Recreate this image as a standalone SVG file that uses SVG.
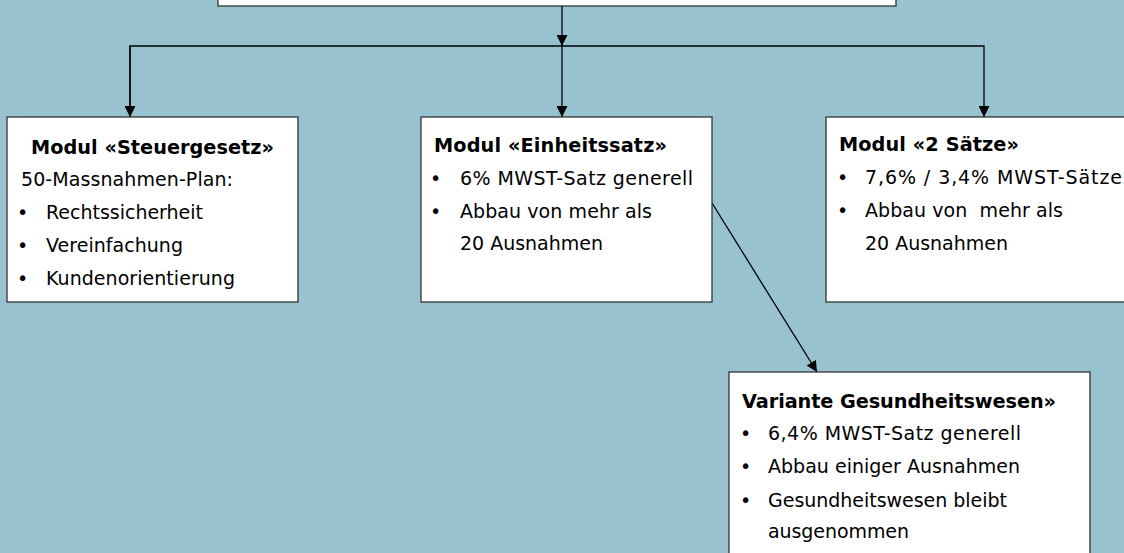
<svg xmlns="http://www.w3.org/2000/svg" width="1124" height="553" viewBox="0 0 1124 553">
  <style>
    .box { fill: #ffffff; stroke: #333333; stroke-width: 1.3; }
    .conn { fill: none; stroke: #000000; stroke-width: 1.3; }
    text { font-family: "DejaVu Sans", Verdana, sans-serif; font-size: 19px; fill: #000000; }
    .title { font-weight: bold; font-size: 19.3px; }
  </style>
  <defs>
    <marker id="arrow" viewBox="0 0 11 11" refX="11" refY="5.5" markerWidth="11" markerHeight="11" markerUnits="userSpaceOnUse" orient="auto">
      <path d="M0,0 L11,5.5 L0,11 Z" fill="#000000"/>
    </marker>
  </defs>
  <rect x="0" y="0" width="1124" height="553" fill="#98c2d0"/>

  <g id="node-top">
    <rect class="box" x="218" y="-10" width="678" height="16"/>
  </g>

  <g id="connectors">
    <line class="conn" x1="562" y1="6" x2="562" y2="46" marker-end="url(#arrow)"/>
    <polyline class="conn" points="130,117 130,46 984,46 984,117" marker-end="url(#arrow)"/>
    <line class="conn" x1="130" y1="46" x2="130" y2="117" marker-end="url(#arrow)"/>
    <line class="conn" x1="562" y1="46" x2="562" y2="117" marker-end="url(#arrow)"/>
    <line class="conn" x1="712" y1="203" x2="817" y2="372" marker-end="url(#arrow)"/>
  </g>

  <g id="node-steuergesetz">
    <rect class="box" x="7" y="117" width="291" height="185"/>
    <text class="title" x="31" y="154" textLength="243" lengthAdjust="spacing">Modul «Steuergesetz»</text>
    <text x="21" y="186" textLength="212" lengthAdjust="spacing">50-Massnahmen-Plan:</text>
    <text x="17" y="219">•</text><text x="46" y="219" textLength="157" lengthAdjust="spacing">Rechtssicherheit</text>
    <text x="17" y="252">•</text><text x="46" y="252" textLength="137" lengthAdjust="spacing">Vereinfachung</text>
    <text x="17" y="285">•</text><text x="46" y="285" textLength="189" lengthAdjust="spacing">Kundenorientierung</text>
  </g>

  <g id="node-einheitssatz">
    <rect class="box" x="421" y="117" width="291" height="185"/>
    <text class="title" x="434" y="152" textLength="233" lengthAdjust="spacing">Modul «Einheitssatz»</text>
    <text x="430" y="185">•</text><text x="460" y="185" textLength="233" lengthAdjust="spacing">6% MWST-Satz generell</text>
    <text x="430" y="218">•</text><text x="460" y="218" textLength="192" lengthAdjust="spacing">Abbau von mehr als</text>
    <text x="460" y="250" textLength="143" lengthAdjust="spacing">20 Ausnahmen</text>
  </g>

  <g id="node-2saetze">
    <rect class="box" x="826" y="117" width="310" height="185"/>
    <text class="title" x="839" y="151" textLength="180" lengthAdjust="spacing">Modul «2 Sätze»</text>
    <text x="837" y="184">•</text><text x="865" y="184" textLength="257" lengthAdjust="spacing">7,6% / 3,4% MWST-Sätze</text>
    <text x="837" y="217">•</text><text x="865" y="217" xml:space="preserve" textLength="198" lengthAdjust="spacing">Abbau von  mehr als</text>
    <text x="865" y="250" textLength="143" lengthAdjust="spacing">20 Ausnahmen</text>
  </g>

  <g id="node-gesundheitswesen">
    <rect class="box" x="729" y="372" width="361" height="200"/>
    <text class="title" x="742" y="408" textLength="314" lengthAdjust="spacing">Variante Gesundheitswesen»</text>
    <text x="740" y="440">•</text><text x="768" y="440" textLength="253" lengthAdjust="spacing">6,4% MWST-Satz generell</text>
    <text x="740" y="473">•</text><text x="768" y="473" textLength="252" lengthAdjust="spacing">Abbau einiger Ausnahmen</text>
    <text x="740" y="507">•</text><text x="768" y="507" textLength="239" lengthAdjust="spacing">Gesundheitswesen bleibt</text>
    <text x="768" y="538" textLength="141" lengthAdjust="spacing">ausgenommen</text>
  </g>
</svg>
